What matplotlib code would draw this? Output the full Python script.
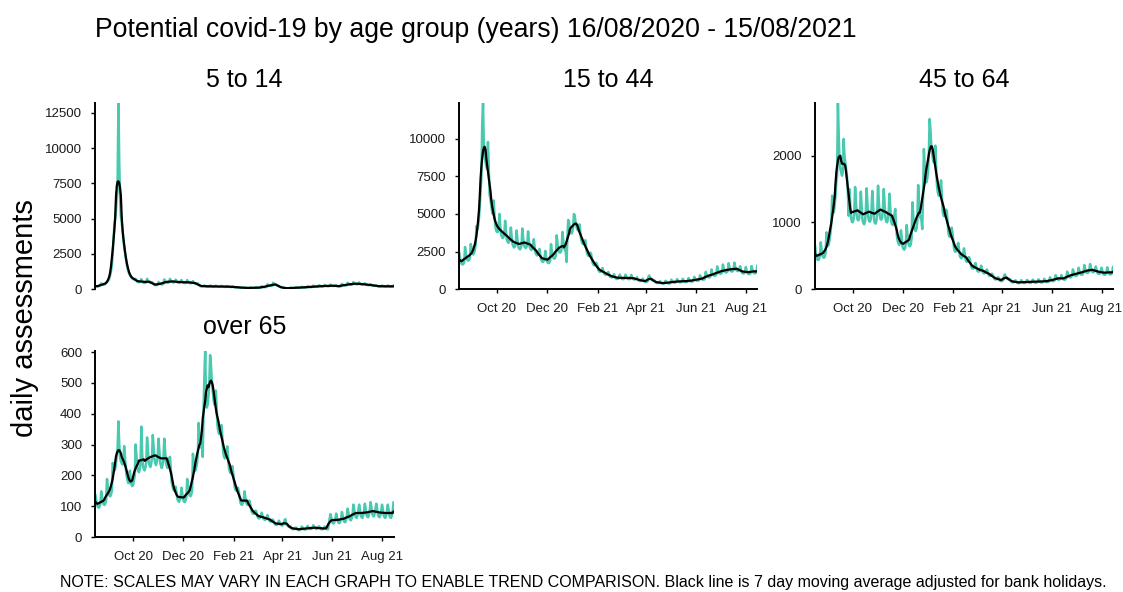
import numpy as np
import pandas as pd
import matplotlib
matplotlib.use("Agg")
import matplotlib.pyplot as plt
import matplotlib.dates as mdates

plt.rcParams['font.family'] = ['Liberation Sans', 'DejaVu Sans']

# ---------------- data ----------------
start_date = "2020-08-16"
end_date = "2021-08-15"
title = "Potential covid-19 by age group (years) 16/08/2020 - 15/08/2021"
note = ("NOTE: SCALES MAY VARY IN EACH GRAPH TO ENABLE TREND COMPARISON. "
        "Black line is 7 day moving average adjusted for bank holidays.")
y_label = "daily assessments"
panel_titles = ["5 to 14", "15 to 44", "45 to 64", "over 65"]
y_ticks_5_14 = [0, 2500, 5000, 7500, 10000, 12500]
y_ticks_15_44 = [0, 2500, 5000, 7500, 10000]
y_ticks_45_64 = [0, 1000, 2000]
y_ticks_over_65 = [0, 100, 200, 300, 400, 500, 600]
x_tick_months = [10, 12, 2, 4, 6, 8]

# daily assessments, one row per week (Sun..Sat) from 16/08/2020
age_5_14 = [
    230, 200, 180, 190, 200, 220, 250,
    400, 350, 300, 310, 330, 360, 420,
    500, 550, 650, 800, 1000, 1300, 1700,
    2500, 3500, 4500, 5000, 5600, 6500, 7500,
    13200, 9000, 6500, 5200, 4700, 4200, 3500,
    3000, 2600, 2200, 1800, 1500, 1300, 1100,
    1000, 900, 800, 750, 700, 680, 700,
    720, 600, 520, 490, 480, 500, 540,
    700, 560, 470, 440, 430, 440, 480,
    720, 580, 490, 460, 450, 460, 480,
    420, 340, 290, 280, 270, 280, 300,
    500, 420, 360, 340, 330, 340, 370,
    680, 560, 480, 450, 440, 450, 490,
    720, 600, 510, 480, 470, 480, 520,
    670, 550, 470, 450, 440, 450, 480,
    640, 530, 450, 430, 420, 430, 460,
    630, 520, 440, 420, 410, 420, 450,
    560, 460, 400, 370, 360, 370, 400,
    300, 240, 210, 190, 180, 190, 210,
    250, 210, 180, 170, 160, 170, 180,
    250, 210, 180, 170, 160, 170, 180,
    240, 200, 170, 160, 155, 160, 175,
    230, 190, 165, 155, 150, 155, 170,
    215, 180, 155, 145, 140, 145, 160,
    180, 150, 130, 120, 115, 120, 130,
    130, 110, 95, 90, 88, 90, 97,
    100, 83, 71, 68, 66, 68, 73,
    104, 88, 76, 72, 70, 72, 78,
    124, 105, 90, 86, 84, 86, 92,
    195, 165, 143, 135, 132, 135, 146,
    330, 280, 240, 225, 220, 225, 240,
    440, 370, 320, 300, 290, 270, 240,
    190, 150, 130, 110, 100, 100, 100,
    72, 60, 52, 50, 48, 50, 53,
    91, 77, 67, 63, 62, 63, 68,
    117, 99, 86, 81, 79, 81, 87,
    156, 132, 114, 108, 106, 108, 116,
    195, 165, 143, 135, 132, 135, 146,
    240, 204, 176, 167, 163, 167, 179,
    267, 226, 195, 185, 180, 185, 199,
    286, 242, 209, 198, 194, 198, 213,
    312, 264, 228, 216, 211, 216, 233,
    260, 220, 190, 180, 176, 180, 194,
    364, 308, 266, 252, 246, 252, 272,
    442, 374, 323, 306, 299, 306, 330,
    494, 418, 361, 342, 334, 342, 369,
    468, 396, 342, 324, 317, 324, 349,
    403, 341, 295, 279, 273, 279, 301,
    338, 286, 247, 234, 229, 234, 252,
    260, 220, 190, 180, 176, 180, 194,
    247, 209, 181, 171, 167, 171, 184,
    247, 209, 181, 171, 167, 171, 184,
    240,
]

age_15_44 = [
    2400, 2050, 1760, 1670, 1630, 1670, 1800,
    2800, 2370, 2040, 1940, 1890, 1940, 2090,
    3000, 2700, 2400, 2300, 2400, 2600, 3000,
    4200, 4000, 4200, 4700, 5500, 6500, 7500,
    11000, 12400, 9500, 8800, 8500, 8200, 8000,
    9800, 8000, 6300, 6000, 5600, 5200, 5000,
    5900, 4900, 4200, 3900, 3800, 3800, 4000,
    5000, 4240, 3660, 3470, 3390, 3470, 3730,
    4550, 3850, 3330, 3150, 3080, 3150, 3400,
    4100, 3470, 2990, 2840, 2770, 2840, 3060,
    3900, 3300, 2850, 2700, 2640, 2700, 2910,
    4030, 3410, 2950, 2790, 2730, 2790, 3010,
    3840, 3250, 2800, 2660, 2600, 2660, 2860,
    3320, 2810, 2420, 2300, 2240, 2300, 2470,
    2670, 2260, 1950, 1850, 1800, 1850, 1990,
    2540, 2150, 1850, 1760, 1720, 1760, 1890,
    2990, 2530, 2190, 2070, 2020, 2070, 2230,
    3580, 3030, 2610, 2480, 2420, 2480, 2670,
    3800, 3250, 2800, 2600, 2500, 1800, 3400,
    4600, 4500, 4000, 3800, 3700, 3800, 4100,
    5000, 4900, 4400, 4200, 4000, 3900, 4100,
    4300, 3700, 3250, 3100, 3000, 3000, 3200,
    3250, 2750, 2380, 2250, 2200, 2250, 2430,
    2340, 1980, 1710, 1620, 1580, 1620, 1750,
    1690, 1430, 1240, 1170, 1140, 1170, 1260,
    1400, 1190, 1030, 970, 950, 970, 1050,
    1140, 970, 840, 790, 770, 790, 850,
    990, 840, 720, 680, 670, 680, 740,
    960, 810, 700, 670, 650, 670, 720,
    960, 810, 700, 670, 650, 670, 720,
    940, 790, 680, 650, 630, 650, 700,
    780, 660, 570, 540, 530, 540, 580,
    690, 580, 500, 480, 470, 480, 510,
    800, 900, 700, 650, 600, 580, 600,
    590, 500, 430, 410, 400, 410, 440,
    520, 440, 380, 360, 350, 360, 390,
    550, 460, 400, 380, 370, 380, 410,
    620, 530, 460, 430, 420, 430, 470,
    660, 560, 480, 460, 450, 460, 490,
    680, 570, 490, 470, 460, 470, 500,
    730, 620, 530, 500, 490, 500, 540,
    810, 680, 590, 560, 550, 560, 600,
    910, 770, 670, 630, 620, 630, 680,
    1140, 970, 840, 790, 770, 790, 850,
    1300, 1100, 950, 900, 880, 900, 970,
    1500, 1270, 1090, 1040, 1010, 1040, 1120,
    1630, 1380, 1190, 1130, 1100, 1130, 1210,
    1720, 1450, 1250, 1190, 1160, 1190, 1280,
    1760, 1490, 1280, 1220, 1190, 1220, 1310,
    1520, 1290, 1110, 1050, 1030, 1050, 1130,
    1460, 1230, 1060, 1010, 990, 1010, 1090,
    1530, 1300, 1120, 1060, 1040, 1060, 1140,
    1550,
]

age_45_64 = [
    650, 550, 465, 440, 435, 450, 510,
    700, 594, 502, 475, 470, 486, 551,
    850, 720, 650, 680, 760, 850, 1000,
    1400, 1150, 1150, 1250, 1400, 1600, 1700,
    2790, 2300, 1900, 1800, 1750, 1700, 1750,
    2250, 2000, 1900, 1800, 1700, 1500, 1100,
    1500, 1270, 1070, 1010, 1000, 1040, 1170,
    1530, 1300, 1100, 1040, 1030, 1060, 1200,
    1460, 1230, 1040, 990, 970, 1010, 1140,
    1510, 1280, 1080, 1020, 1010, 1040, 1180,
    1470, 1240, 1050, 990, 980, 1020, 1150,
    1550, 1310, 1110, 1050, 1040, 1070, 1210,
    1500, 1270, 1070, 1010, 1000, 1040, 1170,
    1430, 1210, 1020, 970, 960, 990, 1120,
    1200, 950, 800, 720, 680, 660, 700,
    880, 750, 630, 600, 590, 610, 690,
    960, 810, 690, 650, 640, 670, 760,
    1300, 1100, 930, 880, 870, 900, 1020,
    1560, 1320, 1120, 1060, 1040, 900, 1400,
    2100, 1850, 1650, 1600, 1650, 1750, 2000,
    2550, 2400, 2150, 2050, 1950, 1900, 1950,
    2150, 1800, 1550, 1450, 1400, 1400, 1500,
    1630, 1380, 1160, 1100, 1090, 1120, 1190,
    1170, 990, 840, 790, 780, 810, 920,
    830, 700, 600, 560, 560, 580, 650,
    690, 580, 490, 470, 460, 480, 540,
    610, 520, 440, 410, 410, 420, 480,
    455, 385, 325, 308, 305, 315, 357,
    390, 330, 280, 264, 261, 270, 306,
    350, 297, 251, 238, 235, 243, 275,
    293, 248, 209, 198, 196, 203, 230,
    215, 182, 153, 145, 144, 149, 168,
    176, 149, 126, 119, 117, 122, 138,
    200, 220, 170, 160, 150, 150, 150,
    150, 127, 107, 101, 100, 104, 117,
    130, 110, 93, 88, 87, 90, 102,
    133, 112, 95, 90, 89, 92, 104,
    137, 116, 98, 92, 91, 95, 107,
    140, 119, 100, 95, 94, 97, 110,
    146, 123, 104, 99, 97, 101, 114,
    153, 130, 110, 104, 103, 106, 120,
    176, 149, 126, 119, 117, 122, 138,
    208, 176, 149, 141, 139, 144, 163,
    208, 176, 149, 141, 139, 144, 163,
    260, 220, 186, 176, 174, 180, 204,
    293, 248, 209, 198, 196, 203, 230,
    319, 270, 228, 216, 213, 221, 250,
    358, 303, 256, 242, 239, 248, 281,
    374, 317, 268, 253, 251, 259, 294,
    338, 286, 242, 229, 226, 234, 265,
    319, 270, 228, 216, 213, 221, 250,
    325, 275, 233, 220, 218, 225, 255,
    330,
]

age_over_65 = [
    135, 119, 103, 97, 95, 99, 108,
    148, 130, 112, 106, 104, 109, 118,
    188, 165, 143, 135, 132, 138, 150,
    240, 230, 215, 220, 240, 260, 290,
    375, 300, 260, 245, 240, 235, 245,
    295, 260, 220, 200, 185, 175, 175,
    215, 190, 170, 165, 170, 185, 200,
    300, 265, 228, 215, 210, 218, 240,
    358, 270, 230, 220, 216, 225, 245,
    323, 284, 245, 232, 227, 237, 258,
    331, 292, 252, 239, 233, 244, 265,
    319, 281, 242, 230, 224, 235, 255,
    319, 281, 242, 230, 224, 235, 255,
    260, 220, 180, 165, 155, 150, 150,
    163, 143, 124, 117, 114, 120, 130,
    160, 141, 122, 115, 113, 118, 128,
    188, 165, 143, 135, 132, 138, 150,
    270, 240, 220, 215, 225, 240, 270,
    370, 330, 300, 290, 300, 260, 420,
    520, 605, 440, 420, 430, 460, 500,
    590, 560, 510, 480, 450, 430, 440,
    475, 418, 361, 342, 334, 350, 360,
    363, 319, 276, 261, 255, 267, 280,
    294, 259, 223, 212, 207, 216, 230,
    213, 187, 162, 153, 150, 156, 160,
    148, 130, 112, 106, 104, 109, 118,
    148, 130, 112, 106, 104, 109, 118,
    106, 94, 81, 77, 75, 78, 85,
    85, 75, 65, 61, 60, 63, 68,
    79, 69, 60, 57, 55, 58, 63,
    71, 63, 54, 51, 50, 52, 57,
    55, 48, 42, 40, 39, 40, 44,
    53, 46, 40, 38, 37, 39, 42,
    55, 58, 42, 38, 36, 34, 32,
    35, 31, 27, 25, 25, 26, 28,
    31, 28, 24, 23, 22, 23, 25,
    34, 30, 26, 24, 24, 25, 27,
    36, 32, 28, 26, 26, 27, 29,
    38, 33, 29, 27, 26, 28, 30,
    35, 31, 27, 25, 25, 26, 28,
    34, 30, 26, 25, 25, 40, 60,
    74, 63, 50, 45, 44, 50, 59,
    76, 64, 50, 46, 45, 50, 60,
    81, 69, 54, 49, 48, 54, 65,
    92, 78, 61, 56, 54, 61, 73,
    105, 90, 70, 64, 62, 70, 84,
    105, 90, 70, 64, 62, 70, 84,
    108, 92, 72, 66, 64, 72, 86,
    113, 97, 76, 69, 67, 76, 91,
    108, 92, 72, 66, 64, 72, 86,
    105, 90, 70, 64, 62, 70, 84,
    105, 90, 70, 64, 62, 70, 84,
    112,
]

# ---------------- figure ----------------
dates = pd.date_range(start_date, end_date, freq="D")
series = [age_5_14, age_15_44, age_45_64, age_over_65]
ticks = [y_ticks_5_14, y_ticks_15_44, y_ticks_45_64, y_ticks_over_65]
for s in series:
    assert len(s) == len(dates), len(s)

W, H = 1123, 592
fig = plt.figure(figsize=(W / 100, H / 100), dpi=100)
teal = "#48C9B0"

# panel boxes in pixels: left, top, width, height
boxes = [(95.5, 103, 298, 186), (459.3, 103, 298, 186),
         (815, 103, 298, 186), (95.5, 350.5, 298, 186.5)]

for i, (vals, yt, name, (l, t, w, h)) in enumerate(zip(series, ticks, panel_titles, boxes)):
    ax = fig.add_axes([l / W, 1 - (t + h) / H, w / W, h / H])
    s = pd.Series(vals, index=dates, dtype=float)
    ma = s.rolling(7, center=True, min_periods=1).mean()
    ax.plot(dates, s.values, color=teal, lw=1.8)
    ax.plot(dates, ma.values, color="black", lw=1.6)
    ax.set_xlim(dates[0], dates[-1])
    ax.set_ylim(0, max(vals))
    ax.set_yticks(yt)
    ax.set_yticklabels([str(v) for v in yt])
    for sp in ("top", "right"):
        ax.spines[sp].set_visible(False)
    ax.spines["left"].set_linewidth(1.4)
    ax.spines["bottom"].set_linewidth(1.4)
    ax.tick_params(direction="out", length=3, width=1.0, labelsize=9.5,
                   colors="black", labelcolor="#1a1a1a")
    ax.tick_params(axis="y", pad=6.5)
    ax.tick_params(axis="x", pad=7)
    ax.xaxis.set_major_locator(mdates.MonthLocator(bymonth=x_tick_months))
    ax.xaxis.set_major_formatter(mdates.DateFormatter("%b %y"))
    if i == 0:
        ax.spines["bottom"].set_visible(False)
        ax.tick_params(axis="x", length=0, labelbottom=False)
    ax.patch.set_alpha(0)
    fig.text((l + w / 2) / W, 1 - (t - 23) / H, name, ha="center", va="center",
             fontsize=18)

fig.text(95 / W, 1 - 30 / H, title, ha="left", va="center", fontsize=19.2)
fig.text(25 / W, 1 - 318 / H, y_label, rotation=90, ha="center", va="center",
         fontsize=21)
fig.text(60 / W, 1 - 583 / H, note, ha="left", va="center", fontsize=11.5)

fig.savefig("out.png", dpi=100)
